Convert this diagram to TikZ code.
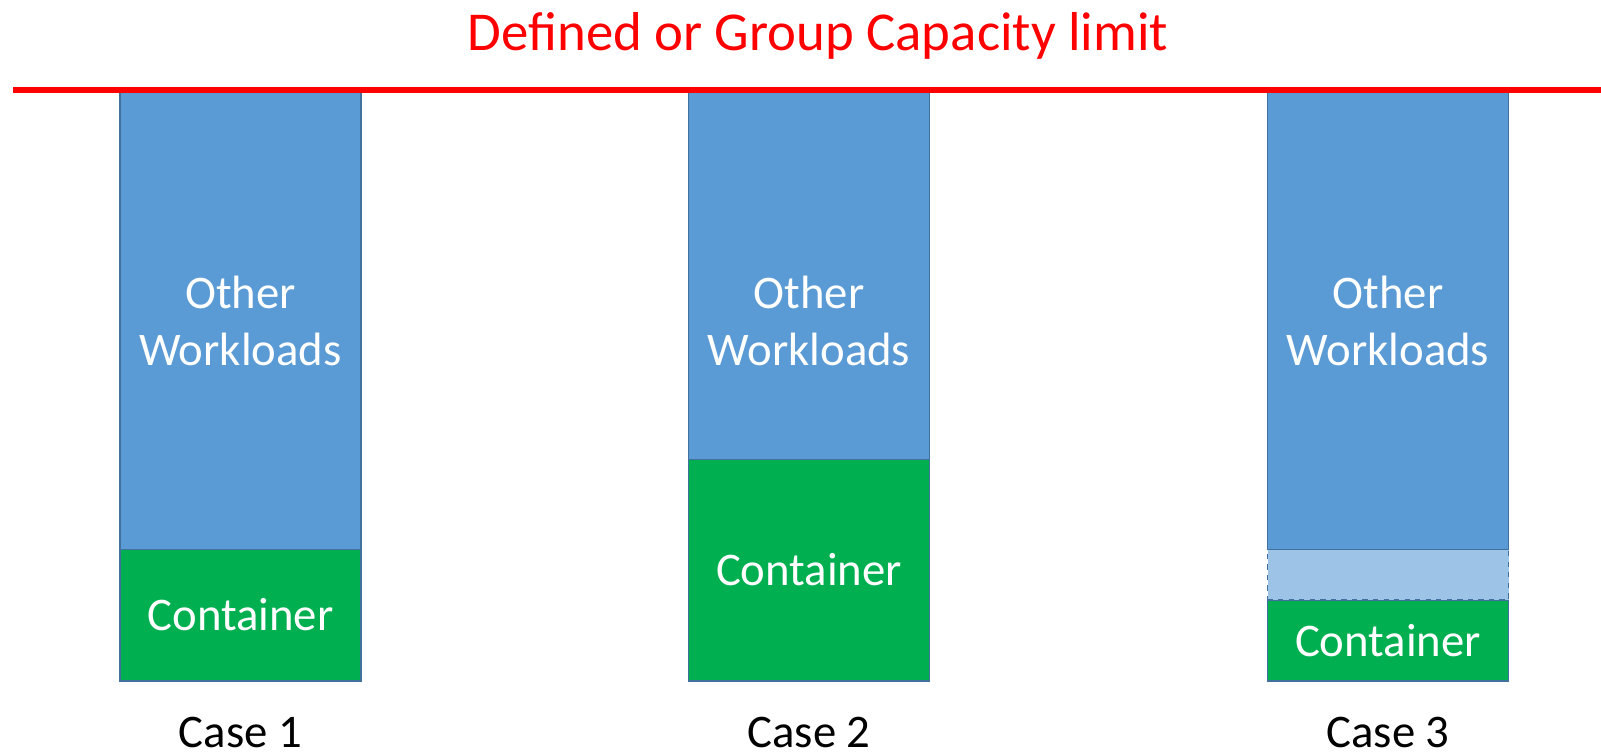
\documentclass[tikz,border=0pt]{standalone}
\usepackage{fontspec}
\setmainfont{Carlito}
\definecolor{wlblue}{HTML}{5B9BD5}
\definecolor{wledge}{HTML}{41719C}
\definecolor{spareblue}{HTML}{9DC3E6}
\definecolor{ctgreen}{HTML}{00B050}
\begin{document}
\begin{tikzpicture}[x=0.02cm, y=-0.02cm,
  bar/.style={draw=wledge, line width=0.6pt, minimum width=4.82cm, inner sep=0pt, outer sep=0pt, anchor=south},
  wl/.style={bar, fill=wlblue},
  ct/.style={bar, fill=ctgreen, text=white, font=\fontsize{26.6}{30}\selectfont},
  spare/.style={bar, fill=spareblue, dashed},
  wltext/.style={text=white, font=\fontsize{26.6}{32.9}\selectfont, align=center},
  casetext/.style={font=\fontsize{26.6}{30}\selectfont, anchor=base, inner sep=0pt}]
  \useasboundingbox (0,0) rectangle (1601,753);

  % case 1
  \node[ct, minimum height=2.64cm] (c1) at (240.5,681) {Container};
  \node[wl, minimum height=9.18cm] (w1) at (c1.north) {};
  % case 2
  \node[ct, minimum height=4.44cm] (c2) at (809,681) {Container};
  \node[wl, minimum height=7.38cm] (w2) at (c2.north) {};
  % case 3
  \node[ct, minimum height=1.62cm] (c3) at (1388,681) {Container};
  \node[spare, minimum height=1.02cm] (s3) at (c3.north) {};
  \node[wl, minimum height=9.18cm] (w3) at (s3.north) {};

  \node[wltext] (o1) at (240.5,321) {Other\\Workloads};
  \node[wltext] (o2) at (809,321) {Other\\Workloads};
  \node[wltext] (o3) at (1388,321) {Other\\Workloads};

  % limit line
  \draw[red, line width=3.4pt] (13,89.7) -- (1601,89.7);
  \node[text=red, font=\fontsize{31.2}{38}\selectfont, anchor=base] (limit) at (818,51) {Defined or Group Capacity limit};

  \node[casetext] (k1) at (240.5,747) {Case 1};
  \node[casetext] (k2) at (809,747) {Case 2};
  \node[casetext] (k3) at (1388,747) {Case 3};
\end{tikzpicture}
\end{document}
